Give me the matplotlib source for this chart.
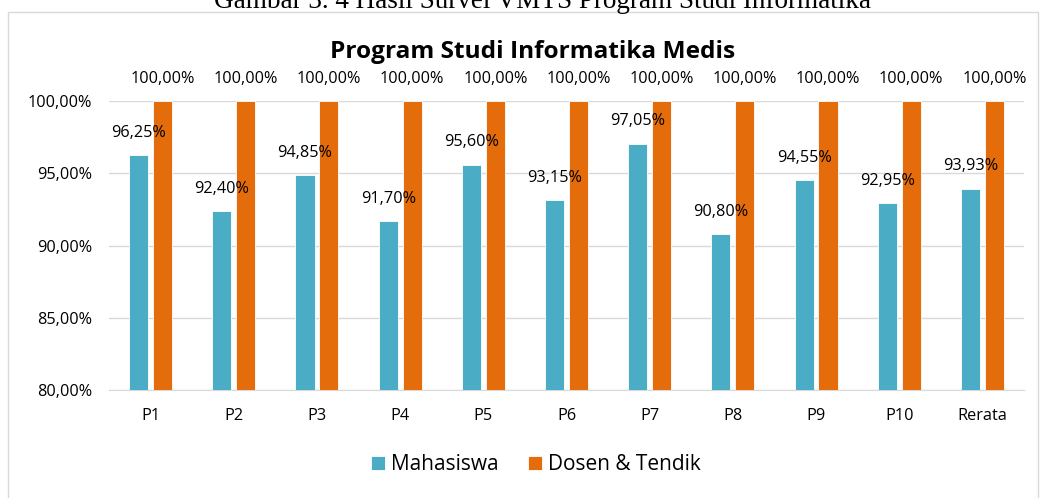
import matplotlib
matplotlib.use("Agg")
import matplotlib.pyplot as plt
import numpy as np
from matplotlib.patches import Rectangle

categories = ["P1", "P2", "P3", "P4", "P5", "P6", "P7", "P8", "P9", "P10", "Rerata"]
mahasiswa = [96.25, 92.40, 94.85, 91.70, 95.60, 93.15, 97.05, 90.80, 94.55, 92.95, 93.93]
dosen = [100.0] * 11
yticks = [80, 85, 90, 95, 100]

BLUE = "#4BACC6"
ORANGE = "#E46C0A"
W, H = 1041, 498

plt.rcParams['font.family'] = ['Open Sans', 'DejaVu Sans']
fig = plt.figure(figsize=(W / 100, H / 100), dpi=100)

# outer chart border
fig.add_artist(Rectangle((8 / W, -0.1), (1038 - 8) / W, 1.1 - 12 / H,
                         transform=fig.transFigure, fill=False,
                         edgecolor="#D9D9D9", linewidth=1.0))

# clipped caption
fig.text(542 / W, 1 - 8 / H, "Gambar 3. 4 Hasil Survei VMTS Program Studi Informatika",
         family="Liberation Serif", fontsize=19.5, ha="center", va="baseline")

ax = fig.add_axes([109 / W, 1 - 390 / H, (1024 - 109) / W, (390 - 101) / H])
x = np.arange(len(categories))
bw = 0.23
off = 0.144
b1 = ax.bar(x - off, mahasiswa, bw, color=BLUE, edgecolor="white", linewidth=0.6,
            label="Mahasiswa", zorder=3)
b2 = ax.bar(x + off, dosen, bw, color=ORANGE, edgecolor="white", linewidth=0.6,
            label="Dosen & Tendik", zorder=3)

def fmt(v):
    return f"{v:.2f}".replace(".", ",") + "%"

for xi, v in zip(x - off, mahasiswa):
    ax.annotate(fmt(v), (xi, v), xytext=(0, 16), textcoords="offset points",
                ha="center", va="center", fontsize=11.7, color="#000000",
                annotation_clip=False)
for xi, v in zip(x + off, dosen):
    ax.annotate(fmt(v), (xi, v), xytext=(0, 16), textcoords="offset points",
                ha="center", va="center", fontsize=11.7, color="#000000",
                annotation_clip=False)

ax.set_ylim(80, 100)
ax.set_xlim(-0.5, len(categories) - 0.5)
ax.set_yticks(yticks)
ax.set_yticklabels([fmt(v) for v in yticks], fontsize=11.7)
ax.set_xticks(x)
ax.set_xticklabels(categories, fontsize=11.7)
ax.tick_params(length=0)
ax.tick_params(axis="y", pad=12)
ax.tick_params(axis="x", pad=13)
ax.grid(axis="y", color="#D9D9D9", linewidth=1.0, zorder=0)
for s in ["top", "right", "left"]:
    ax.spines[s].set_visible(False)
ax.spines["bottom"].set_color("#D9D9D9")
ax.set_axisbelow(True)

fig.text(533 / W, 1 - 52 / H, "Program Studi Informatika Medis", fontsize=17.6,
         fontweight="bold", ha="center", va="center")

fig.legend(handles=[b1, b2], loc="center", bbox_to_anchor=(536 / W, 1 - 465 / H),
           ncol=2, frameon=False, fontsize=15, handlelength=0.65, handleheight=0.65,
           handletextpad=0.3, columnspacing=1.4)

fig.savefig("out.png", dpi=100)
